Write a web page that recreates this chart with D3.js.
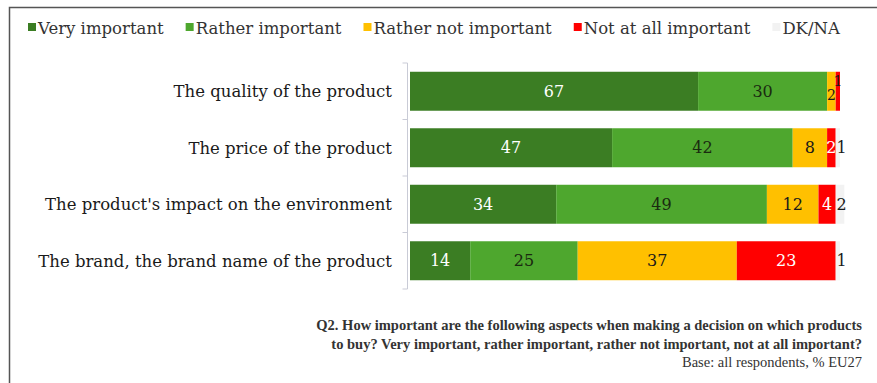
<!DOCTYPE html>
<html>
<head>
<meta charset="utf-8">
<script src="https://cdn.jsdelivr.net/npm/d3@7"></script>
<style>
  html, body { margin: 0; padding: 0; background: #fff; }
  svg { display: block; }
  text { font-family: "DejaVu Serif", "Liberation Serif", serif; }
  text.note { font-family: "Liberation Serif", serif; }
</style>
</head>
<body>
<svg id="chart" width="877" height="383"></svg>
<script>
// Survey answers, % EU27
const categories = [
  "The quality of the product",
  "The price of the product",
  "The product's impact on the environment",
  "The brand, the brand name of the product"
];
const seriesNames = ["Very important", "Rather important", "Rather not important", "Not at all important", "DK/NA"];
const veryImportant      = [67, 47, 34, 14];
const ratherImportant    = [30, 42, 49, 25];
const ratherNotImportant = [2, 8, 12, 37];
const notAtAllImportant  = [1, 2, 4, 23];
const dkNa               = [0, 1, 2, 1];
const seriesValues = [veryImportant, ratherImportant, ratherNotImportant, notAtAllImportant, dkNa];

const colors = ["#3b7d23", "#4ea72e", "#ffc000", "#ff0000", "#f2f2f2"];
const labelColors = ["#ffffff", "#1a2a10", "#1a1a1a", "#ffffff", "#1a1a1a"];

const svg = d3.select("#chart");

// frame around the chart
svg.append("rect")
  .attr("x", 9.5).attr("y", 7.5)
  .attr("width", 900).attr("height", 400)
  .attr("fill", "none").attr("stroke", "#555").attr("stroke-width", 1.5);

const x = d3.scaleLinear().domain([0, 100]).range([410, 840]);
const y = d3.scaleBand().domain(categories).range([63, 289])
  .paddingInner(0.31).paddingOuter(0.155);

// stacked rows
const rows = categories.map((c, i) => {
  const r = { category: c };
  seriesNames.forEach((s, k) => { r[s] = seriesValues[k][i]; });
  return r;
});
const stacked = d3.stack().keys(seriesNames)(rows);

const layers = svg.append("g").selectAll("g")
  .data(stacked).join("g")
  .attr("fill", (d, k) => colors[k]);

layers.selectAll("rect")
  .data(d => d).join("rect")
  .attr("x", d => x(d[0]))
  .attr("y", d => y(d.data.category))
  .attr("width", d => x(d[1]) - x(d[0]))
  .attr("height", y.bandwidth());

// value labels; thin end segments get their labels nudged apart vertically
const isTight = (d, k) => d.data[seriesNames[2]] <= 2 && (k === 2 || k === 3);
stacked.forEach((layer, k) => {
  svg.append("g").selectAll("text")
    .data(layer.filter(d => d[1] - d[0] > 0)).join("text")
    .attr("x", d => k === 4 ? x(d[0]) + 6 : (x(d[0]) + x(d[1])) / 2)
    .attr("y", d => {
      const mid = y(d.data.category) + y.bandwidth() / 2;
      if (isTight(d, k)) return mid + (k === 2 ? 4 : -10);
      return mid;
    })
    .attr("dy", "0.35em")
    .attr("text-anchor", "middle")
    .attr("fill", d => isTight(d, k) ? "#1a1a1a" : labelColors[k])
    .attr("font-size", d => isTight(d, k) ? 14 : 16)
    .text(d => d[1] - d[0]);
});

// vertical axis with ticks between categories
const axisX = 407.5;
const axisG = svg.append("g").attr("stroke", "#c9cbd6").attr("stroke-width", 1);
axisG.append("line")
  .attr("x1", axisX).attr("x2", axisX)
  .attr("y1", y.range()[0]).attr("y2", y.range()[1]);
const boundaries = [y.range()[0]].concat(categories.map(c => y(c) + y.bandwidth() + y.step() * y.paddingInner() / 2));
boundaries[boundaries.length - 1] = y.range()[1];
axisG.selectAll("line.tick").data(boundaries).join("line")
  .attr("class", "tick")
  .attr("x1", axisX - 5).attr("x2", axisX)
  .attr("y1", d => d).attr("y2", d => d);

// category labels
svg.append("g").selectAll("text")
  .data(categories).join("text")
  .attr("x", 392)
  .attr("y", d => y(d) + y.bandwidth() / 2)
  .attr("dy", "0.35em")
  .attr("text-anchor", "end")
  .attr("fill", "#1a1a1a")
  .attr("font-size", 16.5)
  .text(d => d);

// legend
const legend = svg.append("g").attr("transform", "translate(28,28)");
let lx = 0;
seriesNames.forEach((s, k) => {
  const g = legend.append("g").attr("transform", `translate(${lx},0)`);
  g.append("rect").attr("x", 0).attr("y", -5).attr("width", 8).attr("height", 8).attr("fill", colors[k]);
  const t = g.append("text").attr("x", 10).attr("y", 0).attr("dy", "0.35em")
    .attr("font-size", 16.5).attr("fill", "#333").text(s);
  lx += 10 + t.node().getComputedTextLength() + 22;
});

// question and base note
const note = svg.append("g").attr("text-anchor", "end").attr("fill", "#333");
note.append("text").attr("class", "note").attr("x", 862).attr("y", 330).attr("font-size", 14.5).attr("font-weight", "bold")
  .text("Q2. How important are the following aspects when making a decision on which products");
note.append("text").attr("class", "note").attr("x", 862).attr("y", 349).attr("font-size", 14.5).attr("font-weight", "bold")
  .text("to buy? Very important, rather important, rather not important, not at all important?");
note.append("text").attr("class", "note").attr("x", 862).attr("y", 367).attr("font-size", 14.5)
  .text("Base: all respondents, % EU27");
</script>
</body>
</html>
